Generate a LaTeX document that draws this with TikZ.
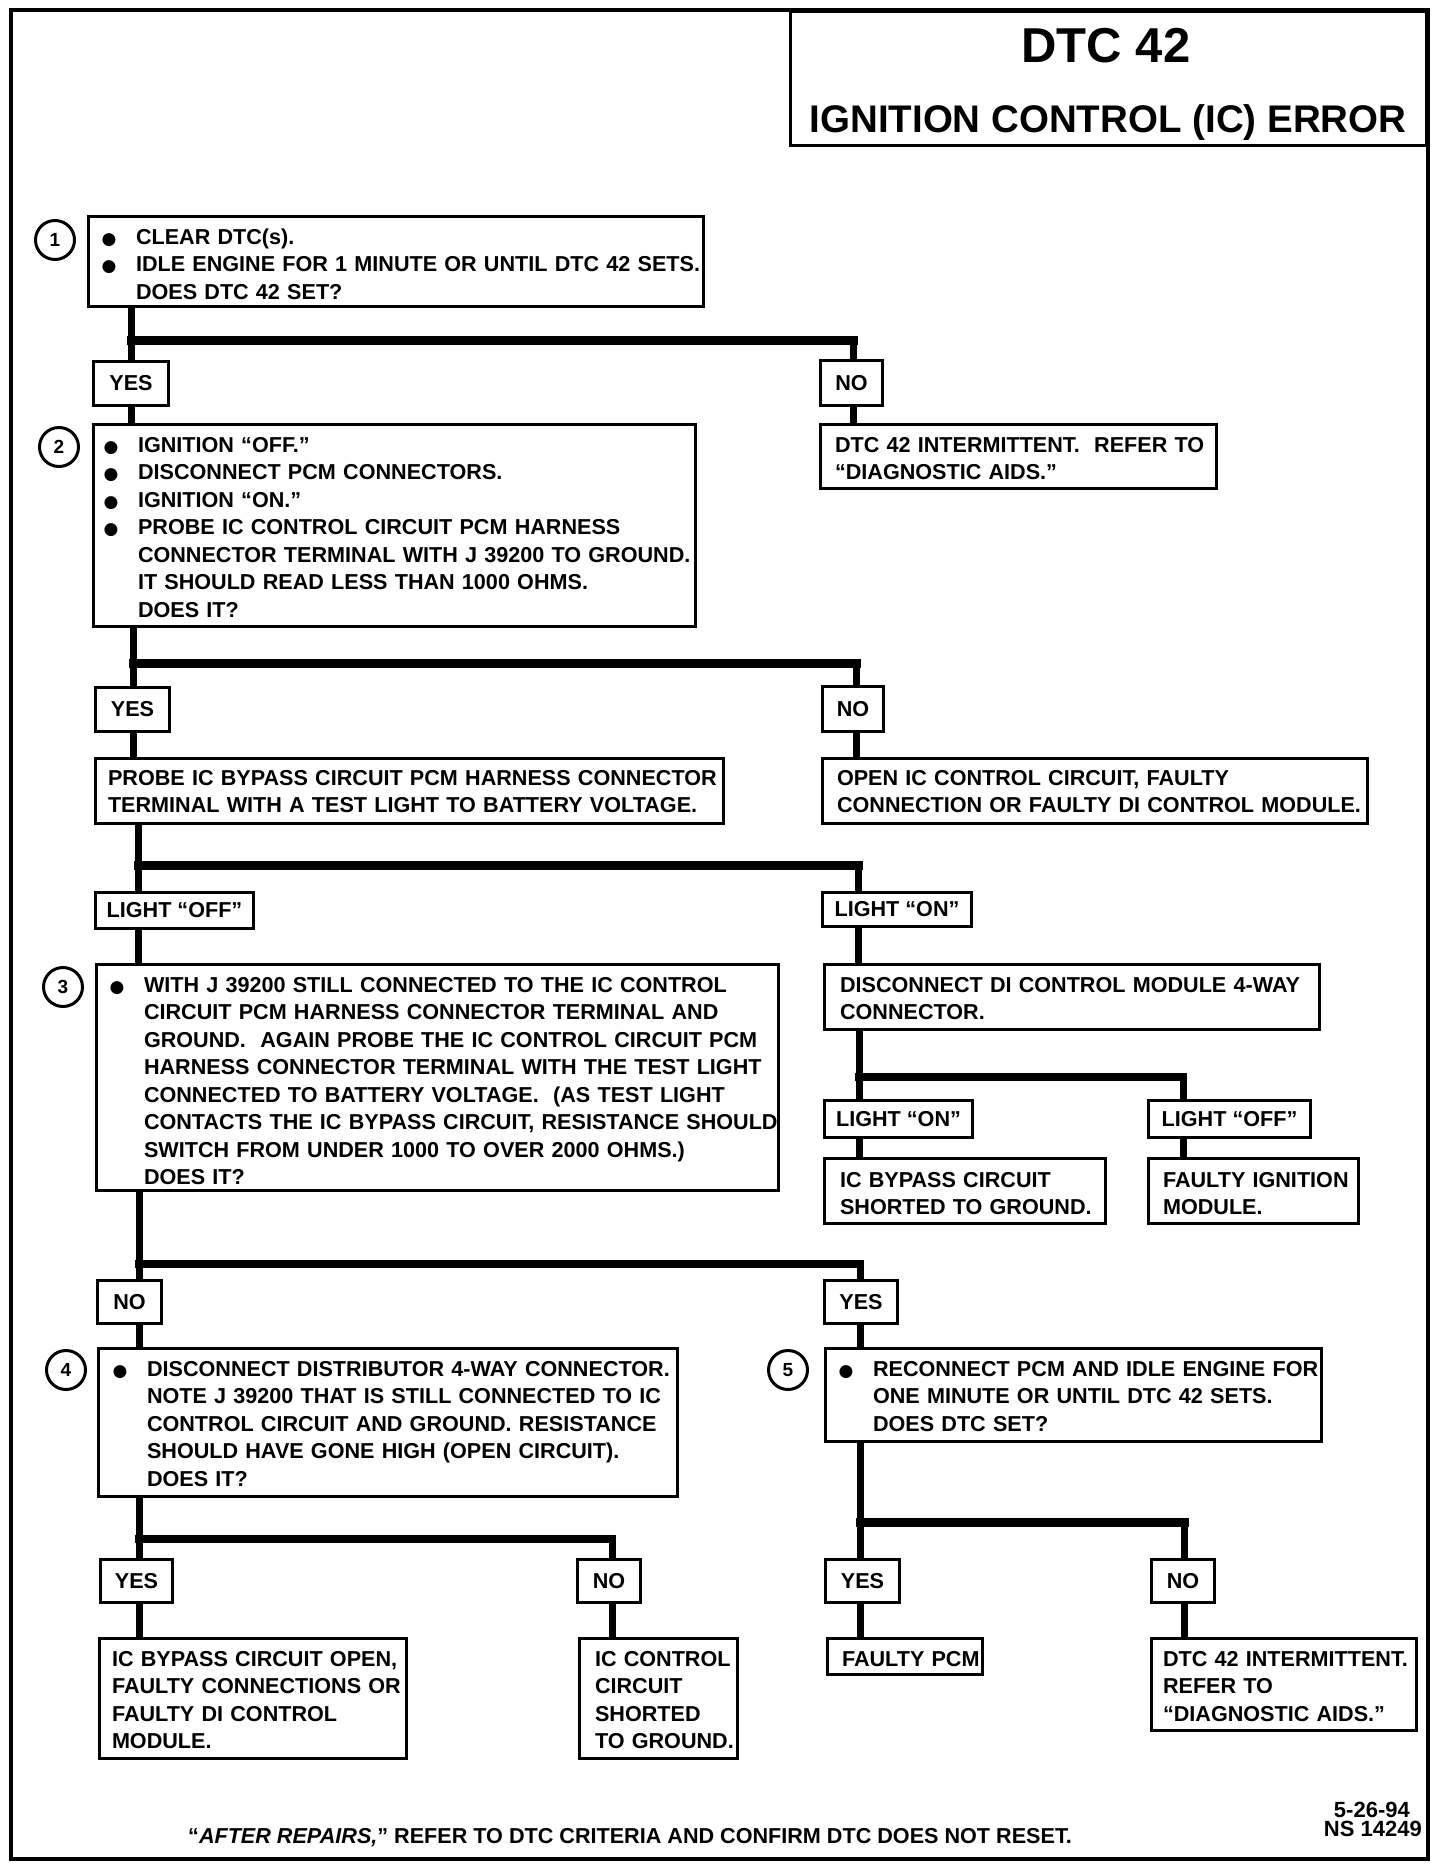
\documentclass[tikz,border=0pt]{standalone}
\usepackage{fontspec}
\setmainfont{Liberation Sans}
\newfontfamily\dejavu{DejaVu Sans}
\usetikzlibrary{calc}
\pgfdeclarelayer{bg}
\pgfsetlayers{bg,main}
\newcommand{\bul}{\leavevmode\llap{\makebox[54pt][c]{\dejavu\fontsize{17}{17}\selectfont ●}}}
\newcommand{\mkbox}[6]{%
  \node[box, minimum width={#4-#2-3}, minimum height={#5-#3-3}] (#1) at ({#2+1.5},{-#3-1.5}) {#6};}
\tikzset{
  box/.style={draw, line width=3pt, fill=white, inner sep=0pt, outer sep=0pt, anchor=north west},
  txt/.style={anchor=base west, inner sep=0pt, outer sep=0pt, text width=760pt, align=left},
  num/.style={circle, draw, line width=3pt, minimum size=39pt, inner sep=0pt, font=\bfseries\fontsize{19}{20}\selectfont},
  vline/.style={line width=7pt, line cap=rect},
  hbar/.style={line width=9pt, line cap=rect},
  thinbar/.style={line width=8pt, line cap=rect},
}
\begin{document}
\begin{tikzpicture}[x=1pt, y=1pt, font=\bfseries\fontsize{21.6}{27.5}\selectfont]
\useasboundingbox (0,0) rectangle (1440,-1868);
\draw[line width=4pt] (11,-10) rectangle (1428,-1859);

% title
\mkbox{title}{789}{10}{1428}{147}{}
\node[anchor=base, inner sep=0pt, font=\bfseries\fontsize{49}{50}\selectfont] (tA) at (1106,-63) {DTC 42};
\node[anchor=base, inner sep=0pt, font=\bfseries\fontsize{38.5}{40}\selectfont] (tB) at (1108,-132) {IGNITION CONTROL (IC) ERROR};

% boxes
\mkbox{B1}{87}{215}{705}{308}{}
\mkbox{YES1}{92}{360}{170}{407}{YES}
\mkbox{NO1}{819}{359}{884}{407}{NO}
\mkbox{B2}{92}{423}{697}{628}{}
\mkbox{N1}{819}{423}{1218}{490}{}
\mkbox{YES2}{94}{686}{171}{733}{YES}
\mkbox{NO2}{821}{685}{885}{733}{NO}
\mkbox{PR}{94}{757}{725}{825}{}
\mkbox{OP}{821}{757}{1369}{825}{}
\mkbox{LOFF}{94}{891}{255}{930}{LIGHT “OFF”}
\mkbox{LON}{821}{891}{973}{928}{LIGHT “ON”}
\mkbox{B3}{95}{963}{780}{1192}{}
\mkbox{DI}{823}{963}{1321}{1031}{}
\mkbox{LON2}{823}{1099}{974}{1139}{LIGHT “ON”}
\mkbox{LOFF2}{1147}{1099}{1312}{1139}{LIGHT “OFF”}
\mkbox{ICB}{823}{1157}{1107}{1225}{}
\mkbox{FIM}{1147}{1157}{1360}{1225}{}
\mkbox{NO3}{96}{1279}{163}{1325}{NO}
\mkbox{YES3}{823}{1279}{899}{1325}{YES}
\mkbox{B4}{97}{1347}{679}{1498}{}
\mkbox{B5}{824}{1347}{1323}{1443}{}
\mkbox{YES4}{99}{1558}{174}{1604}{YES}
\mkbox{NO4}{576}{1558}{642}{1604}{NO}
\mkbox{ICBO}{98}{1637}{408}{1760}{}
\mkbox{ICC}{578}{1637}{739}{1760}{}
\mkbox{YES5}{824}{1558}{901}{1604}{YES}
\mkbox{NO5}{1150}{1558}{1216}{1604}{NO}
\mkbox{FPCM}{826}{1637}{984}{1676}{}
\mkbox{DTCI}{1150}{1637}{1418}{1732}{}

% step numbers
\node[num] (c1) at (55,-240) {1};
\node[num] (c2) at (59,-447) {2};
\node[num] (c3) at (63,-987) {3};
\node[num] (c4) at (66,-1370) {4};
\node[num] (c5) at (788,-1370) {5};

% texts
\node[txt] (tB1) at (136,-244) {\bul CLEAR DTC(s).\\ \bul IDLE ENGINE FOR 1 MINUTE OR UNTIL DTC 42 SETS.\\ DOES DTC 42 SET?};
\node[txt] (tB2) at (138,-452) {\bul IGNITION “OFF.”\\ \bul DISCONNECT PCM CONNECTORS.\\ \bul IGNITION “ON.”\\ \bul PROBE IC CONTROL CIRCUIT PCM HARNESS\\ CONNECTOR TERMINAL WITH J 39200 TO GROUND.\\ IT SHOULD READ LESS THAN 1000 OHMS.\\ DOES IT?};
\node[txt] (tN1) at (835,-452) {DTC 42 INTERMITTENT.\ \ REFER TO\\ “DIAGNOSTIC AIDS.”};
\node[txt] (tPR) at (108,-785) {PROBE IC BYPASS CIRCUIT PCM HARNESS CONNECTOR\\ TERMINAL WITH A TEST LIGHT TO BATTERY VOLTAGE.};
\node[txt] (tOP) at (837,-785) {OPEN IC CONTROL CIRCUIT, FAULTY\\ CONNECTION OR FAULTY DI CONTROL MODULE.};
\node[txt] (tB3) at (144,-992) {\bul WITH J 39200 STILL CONNECTED TO THE IC CONTROL\\ CIRCUIT PCM HARNESS CONNECTOR TERMINAL AND\\ GROUND.\ \ AGAIN PROBE THE IC CONTROL CIRCUIT PCM\\ HARNESS CONNECTOR TERMINAL WITH THE TEST LIGHT\\ CONNECTED TO BATTERY VOLTAGE.\ \ (AS TEST LIGHT\\ CONTACTS THE IC BYPASS CIRCUIT, RESISTANCE SHOULD\\ SWITCH FROM UNDER 1000 TO OVER 2000 OHMS.)\\ DOES IT?};
\node[txt] (tDI) at (840,-992) {DISCONNECT DI CONTROL MODULE 4-WAY\\ CONNECTOR.};
\node[txt] (tICB) at (840,-1187) {IC BYPASS CIRCUIT\\ SHORTED TO GROUND.};
\node[txt] (tFIM) at (1163,-1187) {FAULTY IGNITION\\ MODULE.};
\node[txt] (tB4) at (147,-1376) {\bul DISCONNECT DISTRIBUTOR 4-WAY CONNECTOR.\\ NOTE J 39200 THAT IS STILL CONNECTED TO IC\\ CONTROL CIRCUIT AND GROUND. RESISTANCE\\ SHOULD HAVE GONE HIGH (OPEN CIRCUIT).\\ DOES IT?};
\node[txt] (tB5) at (873,-1376) {\bul RECONNECT PCM AND IDLE ENGINE FOR\\ ONE MINUTE OR UNTIL DTC 42 SETS.\\ DOES DTC SET?};
\node[txt] (tICBO) at (112,-1666) {IC BYPASS CIRCUIT OPEN,\\ FAULTY CONNECTIONS OR\\ FAULTY DI CONTROL\\ MODULE.};
\node[txt] (tICC) at (595,-1666) {IC CONTROL\\ CIRCUIT\\ SHORTED\\ TO GROUND.};
\node[txt] (tFPCM) at (842,-1666) {FAULTY PCM};
\node[txt] (tDTCI) at (1163,-1666) {DTC 42 INTERMITTENT.\\ REFER TO\\ “DIAGNOSTIC AIDS.”};

% footer
\node[anchor=base west, inner sep=0pt] (foot) at (188,-1843) {“\textit{AFTER REPAIRS,}” REFER TO DTC CRITERIA AND CONFIRM DTC DOES NOT RESET.};
\node[anchor=base east, inner sep=0pt, font=\bfseries\fontsize{22}{24}\selectfont] (date) at (1410,-1817) {5-26-94};
\node[anchor=base east, inner sep=0pt, font=\bfseries\fontsize{22}{24}\selectfont] (ns) at (1422,-1836) {NS 14249};

% junctions
\coordinate (a1) at (131,-340);  \coordinate (b1) at (853,-340);
\coordinate (a2) at (133,-663);  \coordinate (b2) at (856,-663);
\coordinate (a3) at (138,-865);  \coordinate (b3) at (858,-865);
\coordinate (aD) at (859,-1077); \coordinate (bD) at (1183,-1077);
\coordinate (a4) at (139,-1264); \coordinate (b4) at (860,-1264);
\coordinate (a6) at (139,-1539); \coordinate (b6) at (612,-1539);
\coordinate (a5) at (860,-1522); \coordinate (b5) at (1184,-1522);

\begin{pgfonlayer}{bg}
\fill[white] (0,0) rectangle (1440,-1868);
% step 1
\draw[vline] (B1.south -| a1) -- (YES1.north -| a1);
\draw[vline] (YES1.south -| a1) -- (B2.north -| a1);
\draw[hbar] (a1) -- (b1);
\draw[vline] (b1) -- (NO1.north -| b1);
\draw[vline] (NO1.south -| b1) -- (N1.north -| b1);
% step 2
\draw[vline] (B2.south -| a2) -- (YES2.north -| a2);
\draw[vline] (YES2.south -| a2) -- (PR.north -| a2);
\draw[hbar] (a2) -- (b2);
\draw[vline] (b2) -- (NO2.north -| b2);
\draw[vline] (NO2.south -| b2) -- (OP.north -| b2);
% probe
\draw[vline] (PR.south -| a3) -- (LOFF.north -| a3);
\draw[vline] (LOFF.south -| a3) -- (B3.north -| a3);
\draw[hbar] (a3) -- (b3);
\draw[vline] (b3) -- (LON.north -| b3);
\draw[vline] (LON.south -| b3) -- (DI.north -| b3);
% disconnect DI
\draw[vline] (DI.south -| aD) -- (LON2.north -| aD);
\draw[vline] (LON2.south -| aD) -- (ICB.north -| aD);
\draw[thinbar] (aD) -- (bD);
\draw[vline] (bD) -- (LOFF2.north -| bD);
\draw[vline] (LOFF2.south -| bD) -- (FIM.north -| bD);
% step 3
\draw[vline] (B3.south -| a4) -- (NO3.north -| a4);
\draw[vline] (NO3.south -| a4) -- (B4.north -| a4);
\draw[thinbar] (a4) -- (b4);
\draw[vline] (b4) -- (YES3.north -| b4);
\draw[vline] (YES3.south -| b4) -- (B5.north -| b4);
% step 4
\draw[vline] (B4.south -| a6) -- (YES4.north -| a6);
\draw[vline] (YES4.south -| a6) -- (ICBO.north -| a6);
\draw[thinbar] (a6) -- (b6);
\draw[vline] (b6) -- (NO4.north -| b6);
\draw[vline] (NO4.south -| b6) -- (ICC.north -| b6);
% step 5
\draw[vline] (B5.south -| a5) -- (YES5.north -| a5);
\draw[vline] (YES5.south -| a5) -- (FPCM.north -| a5);
\draw[hbar] (a5) -- (b5);
\draw[vline] (b5) -- (NO5.north -| b5);
\draw[vline] (NO5.south -| b5) -- (DTCI.north -| b5);
\end{pgfonlayer}
\end{tikzpicture}
\end{document}
